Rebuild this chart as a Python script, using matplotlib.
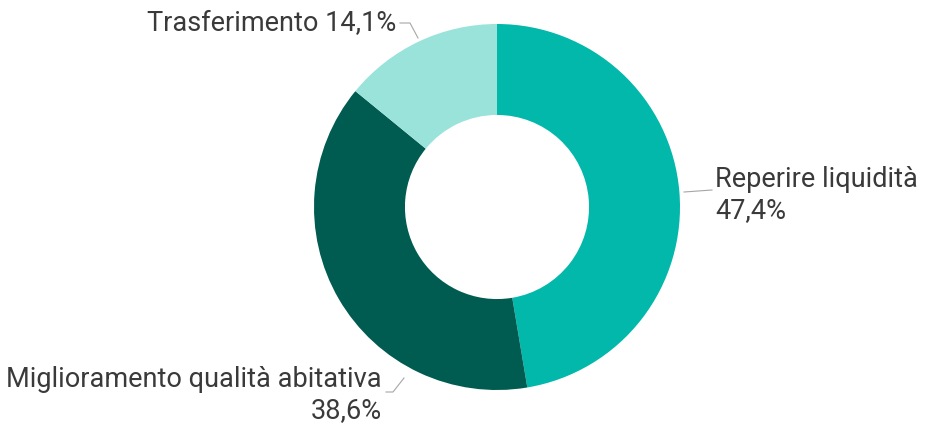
import matplotlib
matplotlib.use("Agg")
import matplotlib.pyplot as plt

categories = ["Reperire liquidità", "Miglioramento qualità abitativa", "Trasferimento"]
values = [47.4, 38.6, 14.1]
value_labels = ["47,4%", "38,6%", "14,1%"]
colors = ["#01B8AA", "#005B50", "#99E3DA"]

W, H = 933, 426
cx, cy, R = 497, 219, 183

fig = plt.figure(figsize=(W / 100, H / 100), dpi=100)
ax = fig.add_axes([0, 0, 1, 1])
ax.axis("off")

wedges, _ = ax.pie(values, startangle=90, counterclock=False, colors=colors,
                   radius=1, center=(0, 0), normalize=True,
                   wedgeprops=dict(width=0.497, linewidth=0))
ax.set_xlim(-cx / R, (W - cx) / R)
ax.set_ylim(-cy / R, (H - cy) / R)
ax.set_aspect("auto")

def px(x, y):
    return ((x - cx) / R, ((H - y) - cy) / R)

font = dict(family="Roboto", fontsize=19.5, color="#3A3A3A")
lc = "#A6A6A6"

# Reperire liquidità
x1, y1 = px(684, 192); x2, y2 = px(712, 190)
ax.plot([x1, x2], [y1, y2], color=lc, lw=0.8)
tx, ty = px(715, 195)
ax.text(tx, ty, f"{categories[0]}\n{value_labels[0]}", ha="left", va="center",
        linespacing=1.2, **font)

# Miglioramento
xa, ya = px(404, 378); xb, yb = px(393, 392); xc, yc = px(386, 392)
ax.plot([xa, xb, xc], [ya, yb, yc], color=lc, lw=0.8)
tx, ty = px(382, 395)
ax.text(tx, ty, f"{categories[1]}\n{value_labels[1]}", ha="right", va="center",
        multialignment="right", linespacing=1.2, **font)

# Trasferimento
xa, ya = px(418, 38); xb, yb = px(410, 23); xc, yc = px(400, 23)
ax.plot([xa, xb, xc], [ya, yb, yc], color=lc, lw=0.8)
tx, ty = px(396, 24)
ax.text(tx, ty, f"{categories[2]} {value_labels[2]}", ha="right", va="center", **font)

fig.savefig("out.png", dpi=100, facecolor="white")
